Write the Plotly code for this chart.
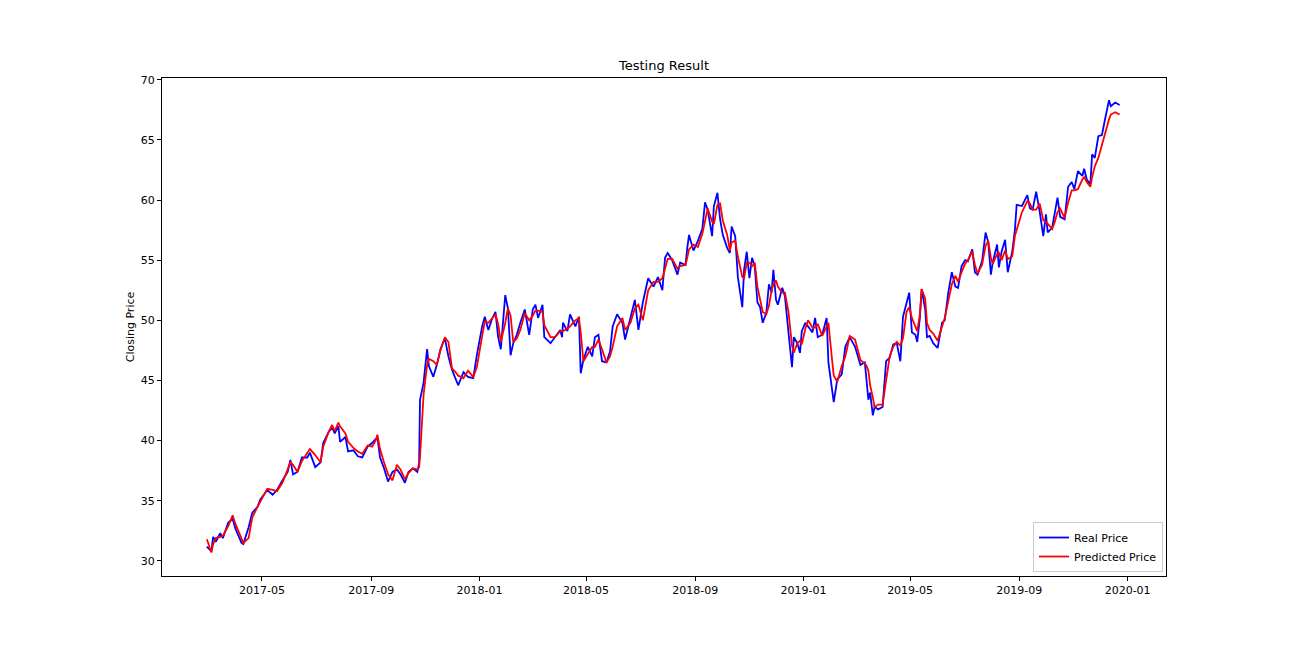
import plotly.graph_objects as go

dates = [
    "2017-02-28", "2017-03-05", "2017-03-07", "2017-03-10", "2017-03-15", "2017-03-18", "2017-03-24", "2017-03-29",
    "2017-04-01", "2017-04-08", "2017-04-10", "2017-04-16", "2017-04-20", "2017-04-26", "2017-04-29", "2017-05-07",
    "2017-05-13", "2017-05-18", "2017-05-24", "2017-05-30", "2017-06-02", "2017-06-05", "2017-06-10", "2017-06-15",
    "2017-06-21", "2017-06-24", "2017-06-30", "2017-07-06", "2017-07-09", "2017-07-15", "2017-07-19", "2017-07-22",
    "2017-07-26", "2017-07-28", "2017-08-03", "2017-08-06", "2017-08-12", "2017-08-17", "2017-08-22", "2017-08-28",
    "2017-09-02", "2017-09-06", "2017-09-08", "2017-09-11", "2017-09-15", "2017-09-20", "2017-09-25", "2017-09-30",
    "2017-10-04", "2017-10-09", "2017-10-13", "2017-10-18", "2017-10-23", "2017-10-25", "2017-10-26", "2017-10-30",
    "2017-11-03", "2017-11-05", "2017-11-10", "2017-11-14", "2017-11-18", "2017-11-23", "2017-11-27", "2017-12-01",
    "2017-12-05", "2017-12-08", "2017-12-14", "2017-12-19", "2017-12-25", "2017-12-29", "2018-01-04", "2018-01-07",
    "2018-01-11", "2018-01-15", "2018-01-19", "2018-01-22", "2018-01-25", "2018-01-30", "2018-02-02", "2018-02-05",
    "2018-02-08", "2018-02-12", "2018-02-16", "2018-02-21", "2018-02-26", "2018-03-02", "2018-03-05", "2018-03-08",
    "2018-03-13", "2018-03-15", "2018-03-22", "2018-03-27", "2018-04-02", "2018-04-04", "2018-04-05", "2018-04-10",
    "2018-04-13", "2018-04-19", "2018-04-23", "2018-04-25", "2018-04-28", "2018-05-03", "2018-05-08", "2018-05-11",
    "2018-05-15", "2018-05-19", "2018-05-24", "2018-05-28", "2018-05-31", "2018-06-05", "2018-06-11", "2018-06-14",
    "2018-06-20", "2018-06-25", "2018-06-29", "2018-07-04", "2018-07-10", "2018-07-16", "2018-07-21", "2018-07-26",
    "2018-07-29", "2018-08-01", "2018-08-06", "2018-08-12", "2018-08-15", "2018-08-21", "2018-08-23", "2018-08-25",
    "2018-08-30", "2018-09-04", "2018-09-09", "2018-09-12", "2018-09-15", "2018-09-20", "2018-09-22", "2018-09-26",
    "2018-09-29", "2018-10-02", "2018-10-07", "2018-10-10", "2018-10-12", "2018-10-16", "2018-10-19", "2018-10-24",
    "2018-10-26", "2018-10-29", "2018-11-01", "2018-11-04", "2018-11-07", "2018-11-10", "2018-11-13", "2018-11-16",
    "2018-11-20", "2018-11-23", "2018-11-26", "2018-11-28", "2018-12-01", "2018-12-03", "2018-12-08", "2018-12-11",
    "2018-12-15", "2018-12-19", "2018-12-21", "2018-12-25", "2018-12-28", "2018-12-30", "2019-01-03", "2019-01-06",
    "2019-01-11", "2019-01-14", "2019-01-17", "2019-01-22", "2019-01-27", "2019-01-29", "2019-02-02", "2019-02-04",
    "2019-02-08", "2019-02-13", "2019-02-17", "2019-02-22", "2019-02-28", "2019-03-06", "2019-03-11", "2019-03-13",
    "2019-03-15", "2019-03-17", "2019-03-20", "2019-03-22", "2019-03-26", "2019-03-31", "2019-04-04", "2019-04-08",
    "2019-04-12", "2019-04-16", "2019-04-20", "2019-04-23", "2019-04-27", "2019-04-30", "2019-05-03", "2019-05-07",
    "2019-05-09", "2019-05-12", "2019-05-14", "2019-05-18", "2019-05-20", "2019-05-23", "2019-05-27", "2019-06-01",
    "2019-06-06", "2019-06-09", "2019-06-13", "2019-06-17", "2019-06-21", "2019-06-24", "2019-06-28", "2019-07-02",
    "2019-07-05", "2019-07-10", "2019-07-13", "2019-07-16", "2019-07-21", "2019-07-25", "2019-07-28", "2019-07-31",
    "2019-08-02", "2019-08-07", "2019-08-09", "2019-08-12", "2019-08-16", "2019-08-19", "2019-08-24", "2019-08-27",
    "2019-08-29", "2019-09-04", "2019-09-10", "2019-09-13", "2019-09-16", "2019-09-20", "2019-09-24", "2019-09-28",
    "2019-10-01", "2019-10-03", "2019-10-08", "2019-10-11", "2019-10-14", "2019-10-17", "2019-10-22", "2019-10-26",
    "2019-10-30", "2019-11-02", "2019-11-06", "2019-11-11", "2019-11-13", "2019-11-16", "2019-11-20", "2019-11-22",
    "2019-11-25", "2019-11-29", "2019-12-03", "2019-12-06", "2019-12-11", "2019-12-13", "2019-12-18", "2019-12-23",
]

real_price = [
    31.2, 30.8, 32.0, 31.6, 32.3, 31.9, 33.2, 33.5,
    32.7, 31.5, 31.4, 32.8, 34.0, 34.5, 35.1, 35.9,
    35.5, 35.9, 36.7, 37.4, 38.4, 37.2, 37.4, 38.6,
    38.6, 39.0, 37.8, 38.2, 39.8, 40.7, 41.1, 40.6,
    41.2, 39.9, 40.3, 39.1, 39.2, 38.7, 38.6, 39.5,
    39.8, 40.1, 40.3, 38.6, 37.8, 36.6, 37.4, 37.6,
    37.2, 36.5, 37.4, 37.7, 37.4, 38.1, 43.4, 44.8,
    47.6, 46.2, 45.3, 46.3, 47.6, 48.5, 47.0, 45.9,
    45.1, 44.6, 45.7, 45.3, 45.2, 47.1, 49.5, 50.3,
    49.2, 50.1, 50.7, 48.6, 47.6, 52.1, 51.0, 47.1,
    48.1, 48.8, 49.8, 50.9, 48.8, 50.9, 51.3, 50.2,
    51.3, 48.6, 48.1, 48.6, 49.2, 48.6, 49.8, 49.1,
    50.5, 49.5, 50.3, 45.6, 46.7, 47.8, 47.0, 48.6,
    48.8, 46.6, 46.5, 47.4, 49.5, 50.5, 49.8, 48.4,
    50.3, 51.7, 49.2, 51.5, 53.5, 52.8, 53.6, 52.5,
    55.2, 55.6, 55.0, 53.8, 54.8, 54.6, 56.0, 57.1,
    55.8, 56.6, 57.6, 59.8, 59.2, 57.0, 59.5, 60.6,
    58.4, 57.1, 56.0, 55.6, 57.8, 57.0, 53.6, 51.1,
    54.2, 55.7, 53.5, 55.2, 54.5, 51.5, 51.1, 49.8,
    50.6, 53.0, 52.3, 54.2, 51.7, 51.3, 52.7, 52.0,
    49.0, 46.1, 48.6, 48.1, 47.3, 49.1, 49.8, 49.5,
    49.0, 50.2, 48.6, 48.8, 50.2, 46.5, 44.5, 43.2,
    45.1, 45.5, 47.8, 48.6, 47.8, 46.3, 46.5, 45.0,
    43.4, 44.0, 42.1, 42.8, 42.6, 42.8, 46.6, 46.9,
    48.0, 48.1, 46.6, 50.3, 51.5, 52.3, 49.0, 48.8,
    48.2, 50.2, 52.6, 50.9, 48.6, 48.7, 48.1, 47.7,
    49.8, 50.0, 52.3, 54.0, 52.8, 52.7, 54.5, 55.0,
    54.9, 55.9, 54.0, 53.8, 54.9, 57.3, 56.5, 53.8,
    54.8, 56.3, 54.4, 55.7, 56.7, 54.0, 55.7, 57.5,
    59.6, 59.5, 60.4, 59.3, 59.2, 60.7, 59.0, 57.0,
    58.8, 57.3, 57.7, 59.0, 60.2, 58.6, 58.4, 61.1,
    61.5, 60.9, 62.4, 62.0, 62.6, 61.7, 61.3, 63.8,
    63.5, 65.3, 65.4, 66.5, 68.3, 67.8, 68.1, 67.9,
]

predicted_price = [
    31.8, 30.7, 31.4, 31.9, 32.0, 32.1, 32.9, 33.8,
    33.1, 31.8, 31.5, 31.9, 33.6, 34.5, 34.9, 36.0,
    35.9, 35.8, 36.5, 37.6, 38.2, 38.0, 37.4, 38.3,
    38.9, 39.3, 38.8, 38.2, 39.5, 40.7, 41.3, 40.8,
    41.5, 41.2, 40.6, 39.9, 39.4, 39.1, 38.9, 39.6,
    39.5, 40.0, 40.5, 39.3, 38.3, 37.2, 36.7, 38.0,
    37.6, 36.8, 37.3, 37.7, 37.6, 37.8, 38.6, 43.8,
    46.3, 46.8, 46.6, 46.3, 47.5, 48.6, 48.2, 46.0,
    45.7, 45.4, 45.2, 45.8, 45.3, 46.1, 48.7, 49.9,
    49.8, 50.2, 50.5, 49.7, 48.2, 49.8, 51.0, 50.4,
    48.2, 48.5, 49.2, 50.6, 50.0, 50.4, 50.8, 50.8,
    50.7, 49.6, 48.6, 48.6, 49.1, 49.1, 49.1, 49.3,
    49.5, 50.0, 50.2, 49.0, 46.6, 47.2, 47.8, 47.8,
    48.4, 47.6, 46.5, 47.0, 47.8, 49.5, 50.2, 49.2,
    49.8, 51.0, 51.3, 50.0, 52.5, 53.2, 53.2, 53.5,
    54.3, 55.1, 55.1, 54.3, 54.5, 54.6, 55.2, 55.9,
    56.3, 56.1, 57.2, 58.3, 59.3, 58.2, 58.0, 59.6,
    59.7, 58.3, 57.1, 55.8, 56.5, 56.6, 55.3, 53.6,
    53.5, 54.8, 54.8, 54.5, 54.8, 52.8, 51.7, 50.7,
    50.5, 51.2, 52.5, 53.0, 53.3, 52.8, 52.3, 52.3,
    50.7, 47.9, 47.3, 48.1, 48.3, 48.0, 49.3, 50.0,
    49.4, 49.4, 49.7, 48.7, 49.5, 49.8, 46.8, 45.4,
    44.9, 46.2, 47.0, 48.7, 48.4, 46.7, 46.4, 46.2,
    45.8, 44.6, 43.6, 42.8, 43.0, 43.0, 45.0, 47.0,
    47.8, 48.2, 47.9, 48.5, 50.7, 51.1, 50.2, 49.4,
    49.1, 50.5, 52.6, 51.8, 49.8, 49.2, 48.9, 48.3,
    49.5, 50.2, 51.6, 53.0, 53.7, 53.2, 54.0, 54.7,
    55.0, 55.7, 54.6, 53.9, 54.6, 56.2, 56.6, 55.2,
    54.7, 55.5, 55.6, 55.0, 55.8, 55.1, 55.3, 57.0,
    57.5, 59.0, 59.9, 59.7, 59.2, 59.2, 59.7, 58.3,
    58.2, 58.0, 57.6, 58.2, 59.0, 59.3, 58.5, 59.8,
    60.8, 60.8, 60.9, 61.7, 61.9, 61.5, 61.1, 61.9,
    62.8, 63.5, 64.6, 65.4, 66.7, 67.1, 67.3, 67.1,
]

x_range = ["2017-01-08 10:00", "2020-02-13 05:00"]
y_range = [28.75, 70.14]
y_ticks = [30, 35, 40, 45, 50, 55, 60, 65, 70]

FONT = "DejaVu Sans, Liberation Sans, sans-serif"

fig = go.Figure()
fig.add_trace(go.Scatter(x=dates, y=real_price, mode="lines", name="Real Price",
                         line=dict(color="#0000ff", width=1.8)))
fig.add_trace(go.Scatter(x=dates, y=predicted_price, mode="lines", name="Predicted Price",
                         line=dict(color="#ff0000", width=1.8)))

axis_common = dict(showgrid=False, zeroline=False, showline=True, linecolor="black", linewidth=1,
                   mirror=True, ticks="outside", ticklen=4, tickwidth=1, tickcolor="black",
                   tickfont=dict(family=FONT, size=11, color="black"))

W, H = 1279, 632
fig.update_layout(
    width=W, height=H,
    margin=dict(l=154, r=121, t=70, b=64),
    paper_bgcolor="white", plot_bgcolor="white",
    font=dict(family=FONT, size=11, color="black"),
    title=dict(text="Testing Result", x=0.5, xref="paper", xanchor="center",
               y=1 - 57 / H, yref="container", yanchor="middle",
               font=dict(family=FONT, size=13, color="black")),
    xaxis=dict(range=x_range, type="date", dtick="M4", tick0="2017-01-01", tickformat="%Y-%m", **axis_common),
    yaxis=dict(range=y_range, tickvals=y_ticks,
               title=dict(text="Closing Price", standoff=3, font=dict(family=FONT, size=11, color="black")),
               **axis_common),
    legend=dict(x=0.997, y=0.008, xanchor="right", yanchor="bottom", bgcolor="rgba(255,255,255,0.8)",
                bordercolor="#cccccc", borderwidth=1, font=dict(family=FONT, size=11, color="black"),
                tracegroupgap=0, itemwidth=30),
    showlegend=True,
)

fig.write_html("out.html")
